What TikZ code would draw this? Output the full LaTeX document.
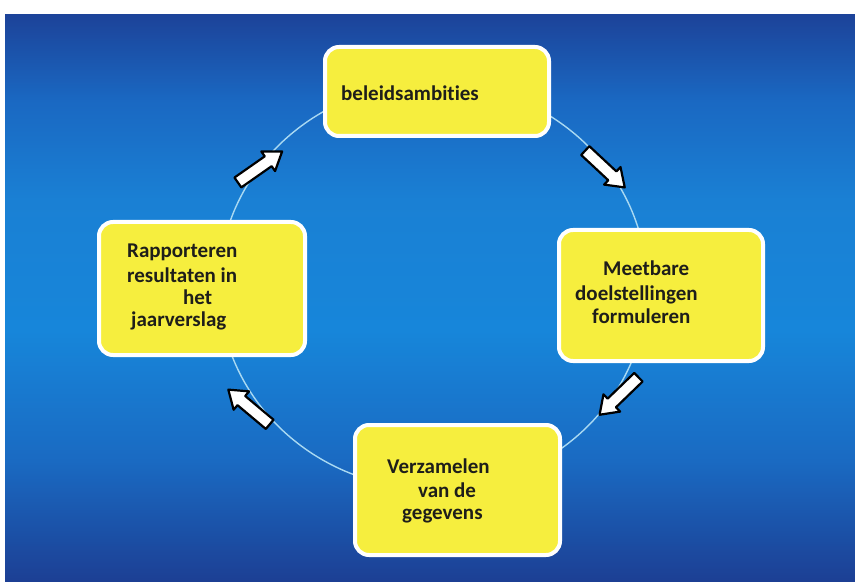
\documentclass[tikz,border=0pt]{standalone}
\usepackage{fontspec}
\setmainfont{Carlito}[Ligatures=NoCommon]
\definecolor{boxyellow}{HTML}{F6EE3E}
\definecolor{bgA}{HTML}{1C4399}
\definecolor{bgB}{HTML}{1A68C2}
\definecolor{bgC}{HTML}{1A80D4}
\definecolor{bgD}{HTML}{1786DA}
\definecolor{bgE}{HTML}{1A6AC2}
\definecolor{bgF}{HTML}{1C3F94}
\definecolor{ringcol}{HTML}{A9D9F2}
\definecolor{txt}{HTML}{1E1E1A}
\newcommand{\bgseg}[4]{%
  \foreach \yy in {#1,...,#2} {%
    \pgfmathtruncatemacro\pp{100*(\yy-#1)/(#2-#1)}%
    \fill[#4!\pp!#3] (5,\yy) rectangle (855,\yy+1.3);
  }}
\begin{document}
\begin{tikzpicture}[x=1pt,y=-1pt,
  box/.style={draw=white, line width=4pt, fill=boxyellow, rounded corners=14pt, inner sep=0pt},
  lbl/.style={anchor=base west, inner sep=0pt, text=txt, font=\fontsize{21}{24}\selectfont\bfseries},
  barrow/.style={draw=black, line width=2.2pt, fill=white, line join=round},
  ring/.style={draw=ringcol, line width=1.4pt}]
\useasboundingbox (0,0) rectangle (855,583);
\fill[white] (0,0) rectangle (855,583);
\bgseg{14}{100}{bgA}{bgB}
\bgseg{100}{200}{bgB}{bgC}
\bgseg{200}{330}{bgC}{bgD}
\bgseg{330}{460}{bgD}{bgE}
\bgseg{460}{581}{bgE}{bgF}
\draw[ring] (433,286) ellipse [x radius=214, y radius=203];
% boxes
\node[box, minimum width=224pt, minimum height=89pt] (b1) at (437,91.5) {};
\node[box, minimum width=204pt, minimum height=131pt] (b2) at (661,295.5) {};
\node[box, minimum width=205pt, minimum height=130pt] (b3) at (457.5,490) {};
\node[box, minimum width=206pt, minimum height=133pt] (b4) at (202,288.5) {};
% texts
\node[lbl] (t1) at (341,101) {beleidsambities};
\node[lbl] (t2a) at (603,276) {Meetbare};
\node[lbl] (t2b) at (575,300) {doelstellingen};
\node[lbl] (t2c) at (592,323) {formuleren};
\node[lbl] (t3a) at (387,473) {Verzamelen};
\node[lbl] (t3b) at (418,497) {van de};
\node[lbl] (t3c) at (402,519) {gegevens};
\node[lbl] (t4a) at (127,258) {Rapporteren};
\node[lbl] (t4b) at (127,282) {resultaten in};
\node[lbl] (t4c) at (183,304) {het};
\node[lbl] (t4d) at (131,326) {jaarverslag};
% block arrows along the ring
\foreach \cx/\cy/\ang in {260/167/35, 605/169/-43, 619/396/-136, 249/407/140} {
  \draw[barrow, shift={(\cx,\cy)}, rotate=\ang]
    (-27,-6) -- (10,-6) -- (10,-12) -- (27,0) -- (10,12) -- (10,6) -- (-27,6) -- cycle;
}
\end{tikzpicture}
\end{document}
